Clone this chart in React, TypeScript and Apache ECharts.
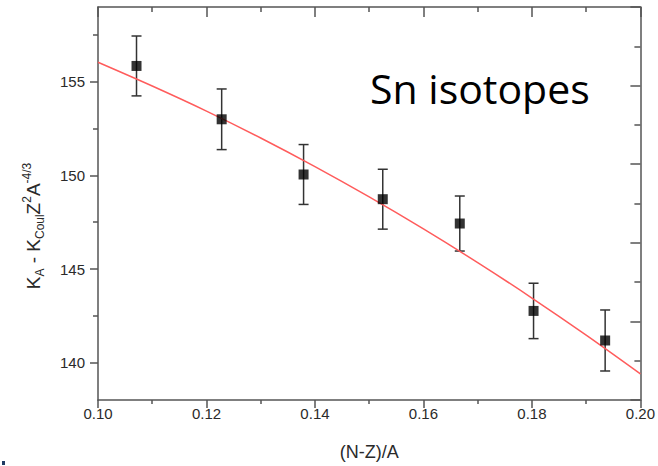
import React, { useEffect, useRef } from "react";
import * as echarts from "echarts";

// Measured points (Sn isotopes)
const xVals = [0.1071, 0.1228, 0.1379, 0.1525, 0.1667, 0.1803, 0.1935];
const yVals = [155.85, 153.0, 150.05, 148.73, 147.43, 142.76, 141.18];
const errVals = [1.6, 1.62, 1.6, 1.6, 1.47, 1.48, 1.63];

// Fit curve
const fitX = [0.1, 0.11, 0.12, 0.13, 0.14, 0.15, 0.16, 0.17, 0.18, 0.19, 0.2];
const fitY = [156.05, 154.78, 153.44, 152.0, 150.47, 148.85, 147.14, 145.34, 143.45, 141.47, 139.4];

const yMajorTicks = [140, 145, 150, 155];
const yMinorTicks = [142.5, 147.5, 152.5, 157.5];

const AXIS_COLOR = "#555";
const TEXT_COLOR = "#2a2a2a";
const FONT = "Liberation Sans";

export default function App() {
  const ref = useRef<HTMLDivElement>(null);

  useEffect(() => {
    if (!ref.current) return;
    const chart = echarts.init(ref.current, null, { renderer: "svg" });
    const lineStyle = { color: AXIS_COLOR, width: 1.5 };

    const option: any = {
      animation: false,
      backgroundColor: "#fff",
      grid: { left: 98, right: 17, top: 7, bottom: 61, containLabel: false },
      xAxis: [
        {
          type: "value",
          position: "bottom",
          min: 0.1,
          max: 0.2,
          interval: 0.02,
          axisLine: { show: true, lineStyle },
          axisTick: { show: true, inside: false, length: 8, lineStyle },
          minorTick: { show: true, splitNumber: 2, length: 4, lineStyle },
          splitLine: { show: false },
          minorSplitLine: { show: false },
          axisLabel: {
            formatter: (v: number) => v.toFixed(2),
            fontSize: 15,
            color: TEXT_COLOR,
            fontFamily: FONT,
            margin: 6,
          },
          name: "(N-Z)/A",
          nameLocation: "middle",
          nameGap: 43,
          nameTextStyle: { fontSize: 18, color: TEXT_COLOR, fontFamily: FONT },
        },
        {
          type: "value",
          position: "top",
          min: 0.1,
          max: 0.2,
          interval: 0.02,
          axisLine: { show: true, lineStyle },
          axisTick: { show: true, inside: true, length: 10, lineStyle },
          minorTick: { show: true, splitNumber: 2, length: 5, lineStyle },
          splitLine: { show: false },
          axisLabel: { show: false },
        },
      ],
      yAxis: [
        {
          type: "value",
          position: "left",
          min: 138,
          max: 159,
          axisLine: { show: true, lineStyle },
          axisTick: { show: true, inside: false, length: 8, lineStyle, customValues: yMajorTicks },
          splitLine: { show: false },
          axisLabel: {
            customValues: yMajorTicks,
            fontSize: 15,
            color: TEXT_COLOR,
            fontFamily: FONT,
            margin: 13,
          },
        },
        {
          type: "value",
          position: "left",
          min: 138,
          max: 159,
          axisLine: { show: false },
          axisTick: { show: true, inside: false, length: 5, lineStyle, customValues: yMinorTicks },
          splitLine: { show: false },
          axisLabel: { show: false, customValues: yMinorTicks },
        },
        {
          type: "value",
          position: "right",
          min: 0,
          max: 10,
          interval: 2,
          axisLine: { show: true, lineStyle },
          axisTick: { show: true, inside: true, length: 10, lineStyle },
          minorTick: { show: true, splitNumber: 2, length: 6, lineStyle },
          splitLine: { show: false },
          axisLabel: { show: false },
        },
      ],
      graphic: [
        {
          type: "text",
          x: 33,
          y: 226,
          rotation: Math.PI / 2,
          style: {
            text: "{m|K}{s|A}{m| - K}{s|Coul}{m|Z}{p|2}{m|A}{p|-4/3}",
            align: "center",
            verticalAlign: "middle",
            fill: TEXT_COLOR,
            rich: {
              m: { fontSize: 19, lineHeight: 25, fontFamily: FONT, fill: TEXT_COLOR, color: TEXT_COLOR },
              s: { fontSize: 12, lineHeight: 10, verticalAlign: "bottom", fontFamily: FONT, fill: TEXT_COLOR, color: TEXT_COLOR },
              p: { fontSize: 12, lineHeight: 10, verticalAlign: "top", fontFamily: FONT, fill: TEXT_COLOR, color: TEXT_COLOR },
            },
          },
        },
        {
          type: "text",
          x: 370,
          y: 88,
          style: {
            text: "Sn isotopes",
            fontSize: 41,
            fontFamily: "Open Sans",
            fill: "#000",
            align: "left",
            verticalAlign: "middle",
          },
        },
        {
          type: "rect",
          shape: { x: 2, y: 461, width: 3, height: 4 },
          style: { fill: "#1f3b63" },
        },
      ],
      series: [
        {
          type: "custom",
          xAxisIndex: 0,
          yAxisIndex: 0,
          data: xVals.map((x, i) => [x, yVals[i], errVals[i]]),
          encode: { x: 0, y: 1 },
          renderItem: (params: any, api: any) => {
            const x = api.value(0);
            const y = api.value(1);
            const e = api.value(2);
            const top = api.coord([x, y + e]);
            const bot = api.coord([x, y - e]);
            const w = 5;
            const st = { stroke: "#333", lineWidth: 1.5 };
            return {
              type: "group",
              children: [
                { type: "line", shape: { x1: top[0], y1: top[1], x2: bot[0], y2: bot[1] }, style: st },
                { type: "line", shape: { x1: top[0] - w, y1: top[1], x2: top[0] + w, y2: top[1] }, style: st },
                { type: "line", shape: { x1: bot[0] - w, y1: bot[1], x2: bot[0] + w, y2: bot[1] }, style: st },
              ],
            };
          },
          z: 2,
        },
        {
          type: "line",
          xAxisIndex: 0,
          yAxisIndex: 0,
          data: fitX.map((x, i) => [x, fitY[i]]),
          smooth: 0.3,
          showSymbol: false,
          symbol: "none",
          lineStyle: { color: "#ff5c5c", width: 1.5 },
          z: 3,
        },
        {
          type: "scatter",
          xAxisIndex: 0,
          yAxisIndex: 0,
          data: xVals.map((x, i) => [x, yVals[i]]),
          symbol: "rect",
          symbolSize: 10,
          itemStyle: { color: "#000" },
          z: 4,
        },
      ],
    };

    chart.setOption(option);
    return () => chart.dispose();
  }, []);

  return (
    <div
      ref={ref}
      style={{ position: "fixed", left: 0, top: 0, width: 658, height: 466, background: "#fff" }}
    />
  );
}
